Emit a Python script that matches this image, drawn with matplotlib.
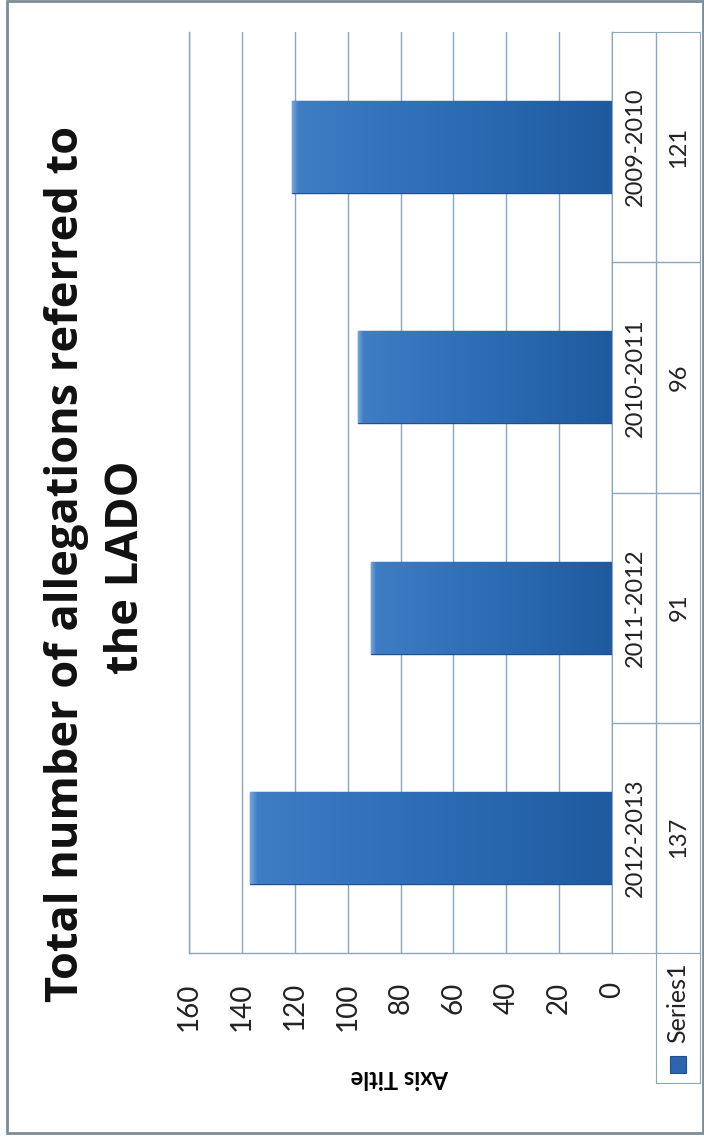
import numpy as np
import matplotlib.pyplot as plt
from matplotlib.patches import Rectangle
from matplotlib.colors import LinearSegmentedColormap

# data (Excel chart, page rotated 90 degrees)
seasons = ['2012-2013', '2011-2012', '2010-2011', '2009-2010']
values = [137, 91, 96, 121]
value_ticks = [0, 20, 40, 60, 80, 100, 120, 140, 160]
title_lines = ['Total number of allegations referred to', 'the LADO']
axis_title = 'Axis Title'
series_name = 'Series1'

W, H = 704, 1137
grid_col = '#8AA8BA'
font = 'Lato'


def box(x0, y0, x1, y1):
    # pixel box (top-left origin) -> figure fraction rect
    return [x0 / W, 1 - y1 / H, (x1 - x0) / W, (y1 - y0) / H]


fig = plt.figure(figsize=(W / 100, H / 100), dpi=100)
fig.patch.set_facecolor('white')

# outer frame
fig.patches.append(Rectangle((7 / W, 1 - 1133 / H), (703 - 7) / W, (1133 - 1) / H,
                             transform=fig.transFigure, fill=False,
                             edgecolor='#7D8C95', lw=2))

# main plot area
ax = fig.add_axes(box(189, 32, 612, 953))
pos = np.arange(len(seasons))
bars = ax.barh(pos, values, height=0.4, color='#2E6DB4', edgecolor='#1F4F8C',
               lw=1, zorder=3)

# gradient fill on each bar (lighter at the far end)
cmap = LinearSegmentedColormap.from_list('bar', ['#1F5A9E', '#2C6CB5', '#3E7CC4', '#6FA3DA'])
grad = np.concatenate([np.linspace(0, 0.67, 250), np.linspace(0.67, 1, 6)]).reshape(1, -1)
for b in bars:
    x0, y0, w, h = b.get_x(), b.get_y(), b.get_width(), b.get_height()
    im = ax.imshow(grad, cmap=cmap, vmin=0, vmax=1, aspect='auto',
                   extent=(x0, x0 + w, y0, y0 + h), zorder=3.5)
    im.set_clip_path(b)

ax.set_xlim(160, 0)
ax.set_ylim(-0.5, len(seasons) - 0.5)
ax.set_xticks(value_ticks)
ax.set_xticklabels([str(v) for v in value_ticks], rotation=90, fontsize=20,
                   family=font, color='#222222')
ax.tick_params(axis='x', length=0, pad=21)
ax.set_yticks([])
ax.grid(axis='x', color=grid_col, lw=1, zorder=0)
for side in ['left', 'bottom', 'right']:
    ax.spines[side].set_color(grid_col)
    ax.spines[side].set_linewidth(1)
ax.spines['top'].set_visible(False)
ax.set_facecolor('white')

# data table on the right
tab = fig.add_axes(box(612, 32, 700, 953))
tab.set_xlim(0, 2)
tab.set_ylim(-0.5, len(seasons) - 0.5)
tab.set_xticks([])
tab.set_yticks([])
for s in tab.spines.values():
    s.set_color(grid_col)
tab.axvline(1, color=grid_col, lw=1)
for i in range(1, len(seasons)):
    tab.axhline(i - 0.5, color=grid_col, lw=1)
for i, (s, v) in enumerate(zip(seasons, values)):
    tab.text(0.52, i, s, rotation=90, ha='center', va='center', fontsize=17,
             family=font, color='#222222')
    tab.text(1.52, i, str(v), rotation=90, ha='center', va='center', fontsize=17,
             family=font, color='#222222')

# legend key cell
leg = fig.add_axes(box(656, 953, 700, 1083))
leg.set_xlim(0, 1)
leg.set_ylim(0, 1)
leg.set_xticks([])
leg.set_yticks([])
for s in leg.spines.values():
    s.set_color(grid_col)
leg.add_patch(Rectangle((0.32, 0.08), 0.36, 0.13, facecolor='#2C66AE',
                        edgecolor='#1F4F8C', lw=0.8))
leg.text(0.5, 0.62, series_name, rotation=90, ha='center', va='center',
         fontsize=18, family=font, color='#222222')

# title, two lines placed on their baselines
for (bx, cy), line in zip([(78, 564), (138, 567)], title_lines):
    fig.text(bx / W, 1 - cy / H, line, rotation=90, rotation_mode='anchor',
             ha='center', va='baseline', fontsize=32.5, fontweight='bold',
             family='Open Sans', color='#111111')
fig.text(400 / W, 1 - 1078 / H, axis_title, rotation=180, ha='center',
         va='center', fontsize=17, fontweight='bold', family=font)

fig.savefig('out.png', dpi=100)
